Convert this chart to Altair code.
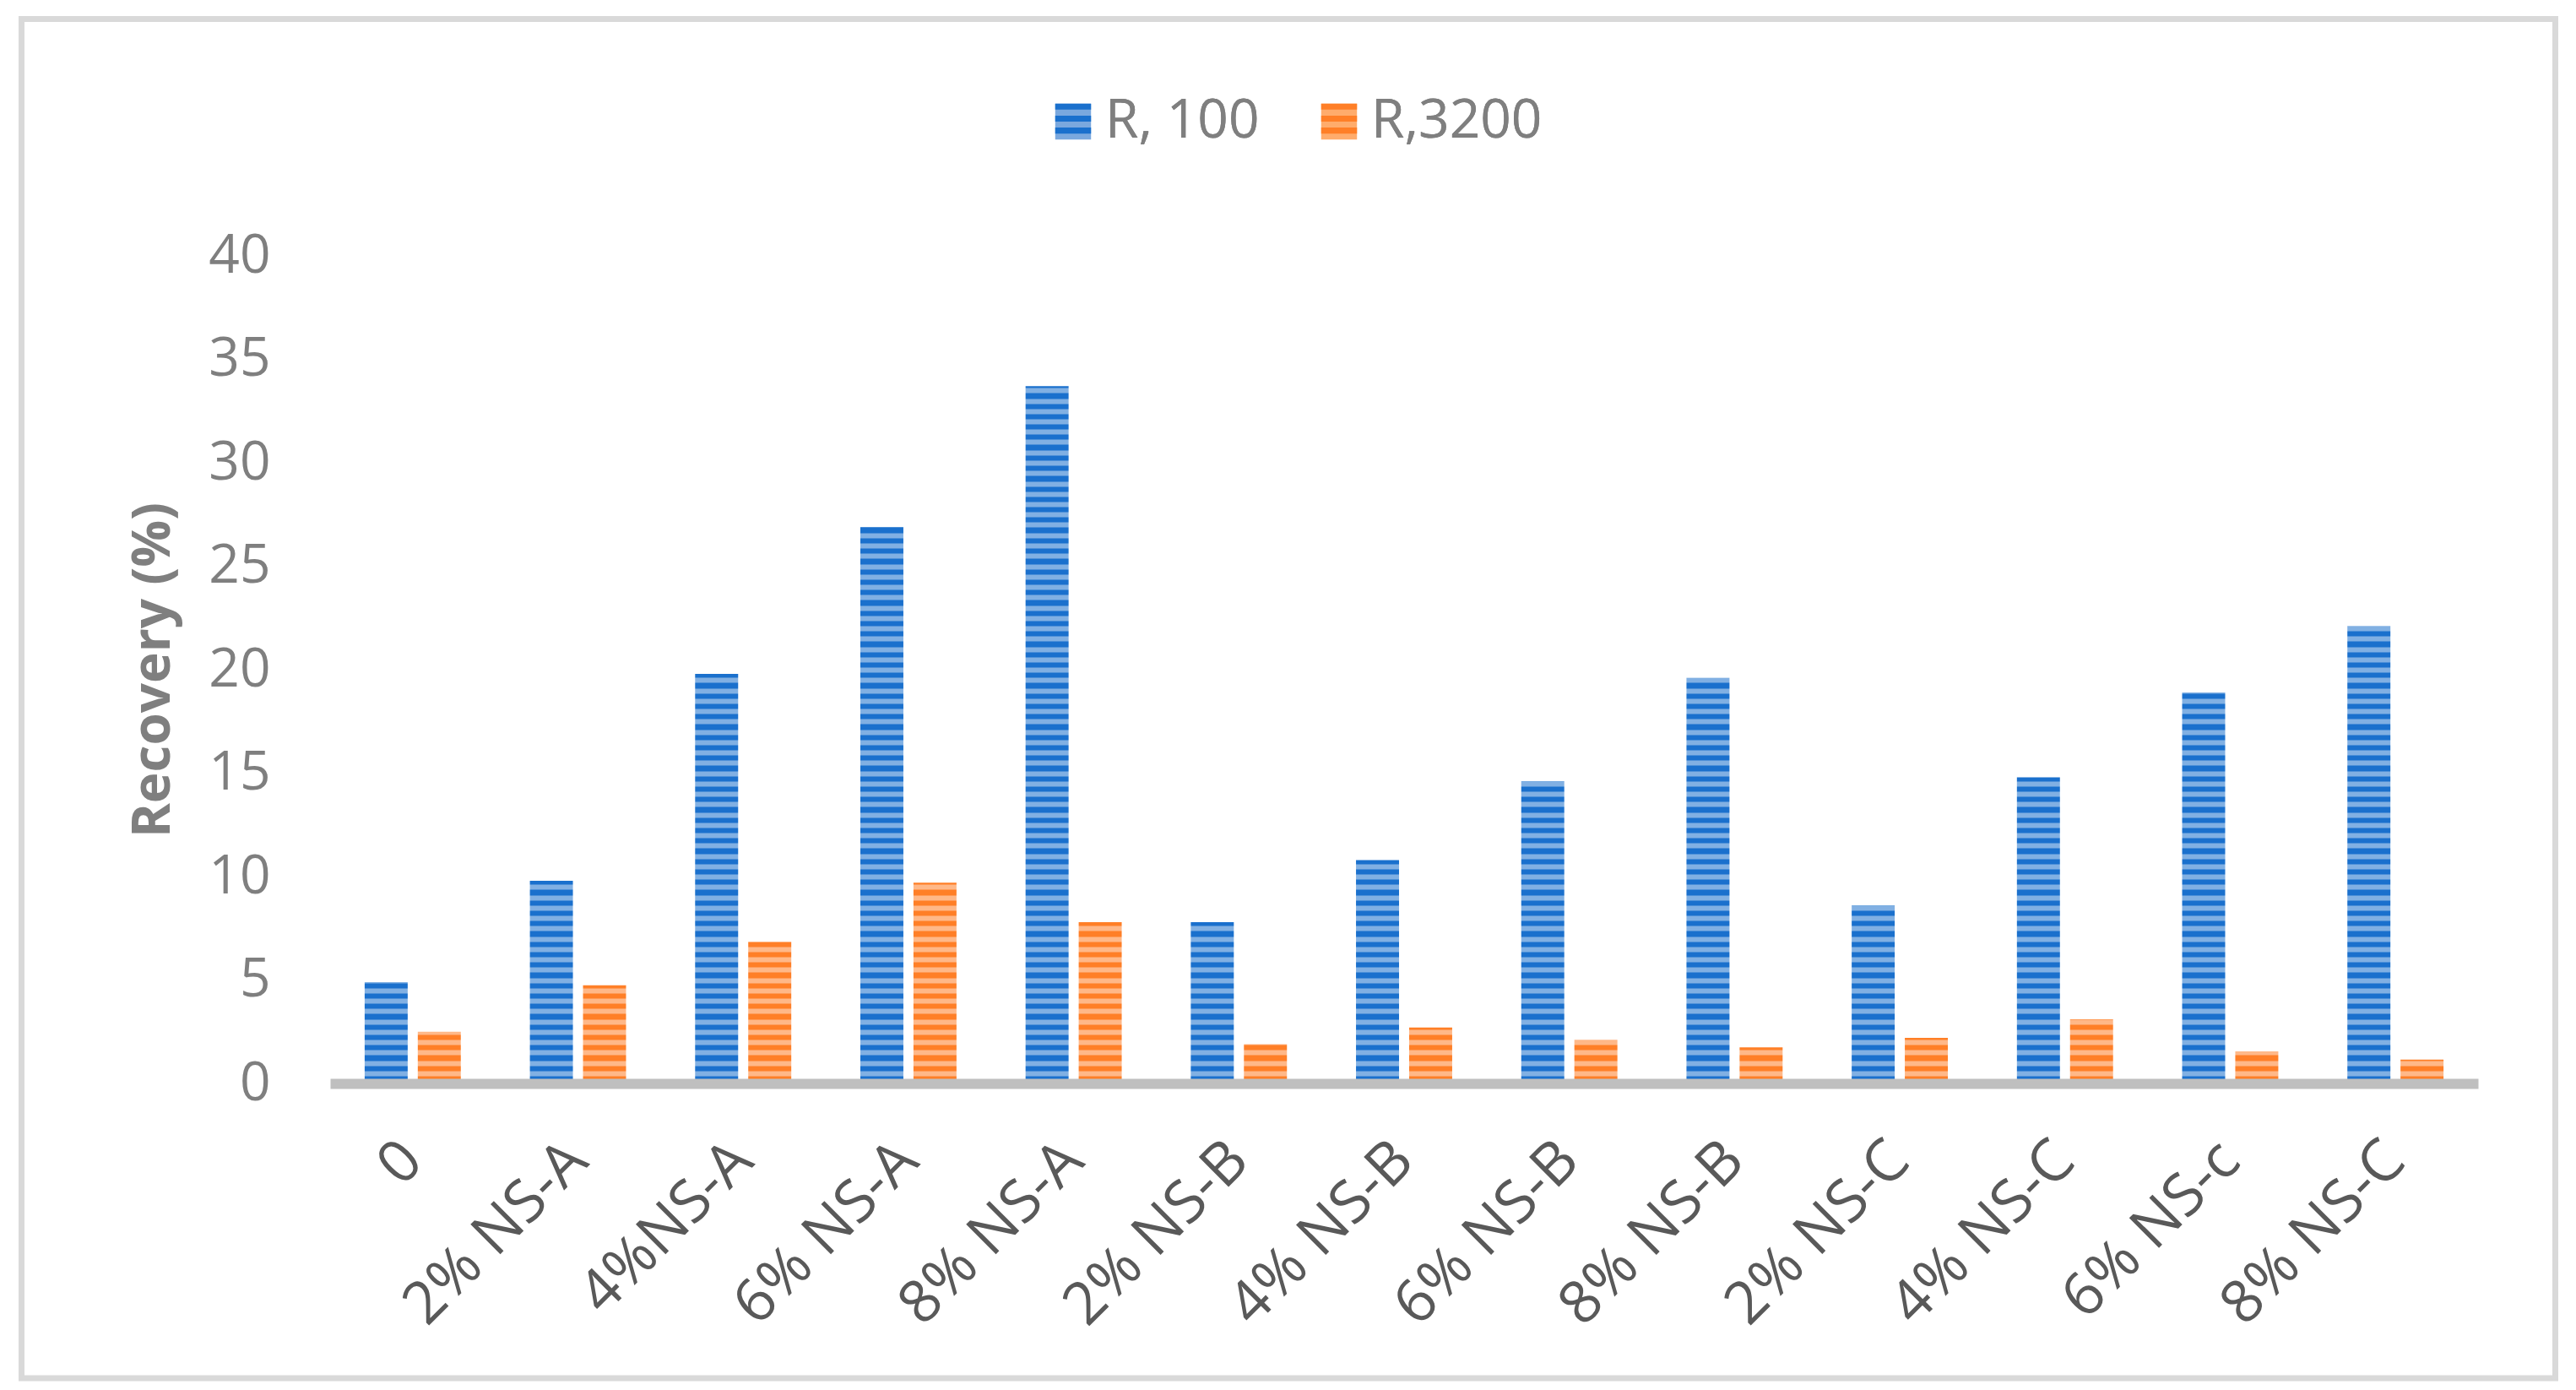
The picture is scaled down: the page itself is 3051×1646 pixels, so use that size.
import altair as alt
import pandas as pd

categories = ["0", "2% NS-A", "4%NS-A", "6% NS-A", "8% NS-A", "2% NS-B", "4% NS-B",
              "6% NS-B", "8% NS-B", "2% NS-C", "4% NS-C", "6% NS-c", "8% NS-C"]
r100 = [4.9, 9.8, 19.8, 26.9, 33.7, 7.8, 10.8, 14.6, 19.6, 8.6, 14.8, 18.9, 22.1]
r3200 = [2.5, 4.75, 6.85, 9.7, 7.8, 1.9, 2.7, 2.1, 1.75, 2.2, 3.1, 1.55, 1.15]
series = ["R, 100", "R,3200"]
stripe_values = [i * 0.5 for i in range(81)]  # texture lines (grid), not data

dark = ["#1a70cd", "#ff7f27"]
light = ["#7aa8de", "#ffac6c"]

rows = []
for c, a, b in zip(categories, r100, r3200):
    rows.append({"category": c, "series": series[0], "key": series[0], "value": a})
    rows.append({"category": c, "series": series[1], "key": series[1], "value": b})
df = pd.DataFrame(rows)

FONT = "Open Sans"
STRIPE_PATH = "M-1,-1H1V-0.667H-1Z M-1,-0.333H1V0H-1Z M-1,0.333H1V0.667H-1Z"

legend_common = dict(orient="none", legendX=848, legendY=-191, direction="horizontal",
                     title=None, symbolSize=1800, labelFontSize=64, labelLimit=1000,
                     labelColor="#7f7f7f", labelFont=FONT, labelOffset=6,
                     columnPadding=62, symbolStrokeWidth=0, symbolOpacity=1, padding=0)

x_enc = alt.X("category:N", sort=categories,
              scale=alt.Scale(paddingInner=0, paddingOuter=0),
              axis=alt.Axis(labelAngle=-45, labelAlign="right", labelBaseline="middle",
                            labelFontSize=70, labelColor="#595959", labelFont=FONT,
                            labelPadding=80, labelLimit=1000, ticks=False, tickSize=0,
                            domainColor="#bfbfbf", domainWidth=12, title=None,
                            zindex=2, labelOverlap=False))
xo_enc = alt.XOffset("series:N", sort=series,
                     scale=alt.Scale(paddingInner=0.19, paddingOuter=0.65))
y_enc = alt.Y("value:Q", scale=alt.Scale(domain=[0, 40], nice=False),
              axis=alt.Axis(values=stripe_values,
                            labelExpr="datum.value % 5 === 0 ? format(datum.value, 'd') : ''",
                            labelOverlap=False, grid=True, gridColor="white",
                            gridOpacity=0.45, gridWidth=6, ticks=False, tickSize=0,
                            domain=False, labelFontSize=64, labelColor="#7f7f7f",
                            labelFont=FONT, labelPadding=71,
                            title="Recovery (%)", titleFontSize=62,
                            titleFontWeight="bold", titleColor="#7f7f7f", titleFont=FONT,
                            titleX=-210, titleY=490, titleAngle=270,
                            titleAlign="center", titleBaseline="middle", zindex=1))

bars = alt.Chart(df).mark_bar().encode(
    x=x_enc, xOffset=xo_enc, y=y_enc,
    color=alt.Color("series:N", sort=series,
                    scale=alt.Scale(domain=series, range=dark),
                    legend=alt.Legend(symbolType=STRIPE_PATH, zindex=2, **legend_common)),
)

# light swatch backgrounds for the legend (marks themselves are invisible)
legend_bg = alt.Chart(df).mark_square(size=0, filled=True, opacity=1).encode(
    fill=alt.Fill("key:N", sort=series, scale=alt.Scale(range=light),
                  legend=alt.Legend(symbolType="square", zindex=1, **legend_common)),
)

frame = alt.Chart(alt.Data(values=[{"a": 1}])).mark_rect(
    fill=None, stroke="#d9d9d9", strokeWidth=7
).encode(x=alt.value(-365.5), x2=alt.value(2635.5),
         y=alt.value(-280.5), y2=alt.value(1329))

chart = alt.layer(frame, legend_bg, bars).properties(
    width=2544, height=980,
    padding={"left": 14, "top": 11, "right": 5, "bottom": 5},
).resolve_scale(color="independent", fill="independent").configure_view(stroke=None)

chart.save("out.html", embed_options={"renderer": "svg", "actions": False})
